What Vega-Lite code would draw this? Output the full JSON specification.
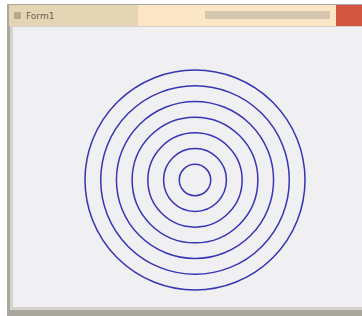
{
  "$schema": "https://vega.github.io/schema/vega-lite/v6.json",
  "width": 362,
  "height": 316,
  "autosize": {"type": "fit", "contains": "padding"},
  "padding": 0,
  "background": "#ffffff",
  "config": {"view": {"stroke": null}},
  "datasets": {
    "frame": [
      {"part": "border", "x1": 7, "x2": 362, "y1": 4, "y2": 316},
      {"part": "borderInner", "x1": 10, "x2": 362, "y1": 26, "y2": 310},
      {"part": "titleLeft", "x1": 9, "x2": 138, "y1": 5, "y2": 26},
      {"part": "titleMid", "x1": 138, "x2": 336, "y1": 5, "y2": 26},
      {"part": "titleBlur", "x1": 205, "x2": 330, "y1": 11, "y2": 19},
      {"part": "close", "x1": 336, "x2": 362, "y1": 5, "y2": 26},
      {"part": "icon", "x1": 14, "x2": 21, "y1": 12, "y2": 19},
      {"part": "client", "x1": 13, "x2": 362, "y1": 27, "y2": 307}
    ],
    "rings": [
      {"ring": 1, "cx": 195, "cy": 180},
      {"ring": 2, "cx": 195, "cy": 180},
      {"ring": 3, "cx": 195, "cy": 180},
      {"ring": 4, "cx": 195, "cy": 180},
      {"ring": 5, "cx": 195, "cy": 180},
      {"ring": 6, "cx": 195, "cy": 180},
      {"ring": 7, "cx": 195, "cy": 180}
    ],
    "title": [{"label": "Form1", "tx": 26, "ty": 16}]
  },
  "layer": [
    {
      "data": {"name": "frame"},
      "mark": {"type": "rect"},
      "encoding": {
        "x": {"field": "x1", "type": "quantitative", "scale": {"domain": [0, 362], "nice": false, "zero": false}, "axis": null},
        "x2": {"field": "x2"},
        "y": {"field": "y1", "type": "quantitative", "scale": {"domain": [0, 316], "nice": false, "zero": false, "reverse": true}, "axis": null},
        "y2": {"field": "y2"},
        "color": {
          "field": "part",
          "type": "nominal",
          "legend": null,
          "scale": {
            "domain": ["border", "borderInner", "titleLeft", "titleMid", "titleBlur", "close", "icon", "client"],
            "range": ["#a9a79d", "#d6d3ca", "#e4d6b4", "#fbe6c6", "#d4c6b0", "#d2553f", "#b8a890", "#f0f0f2"]
          }
        }
      }
    },
    {
      "data": {"name": "title"},
      "mark": {"type": "text", "align": "left", "baseline": "middle", "font": "DejaVu Sans", "fontSize": 9, "color": "#6a6256"},
      "encoding": {
        "x": {"field": "tx", "type": "quantitative"},
        "y": {"field": "ty", "type": "quantitative"},
        "text": {"field": "label"}
      }
    },
    {
      "data": {"name": "rings"},
      "mark": {"type": "point", "shape": "circle", "filled": false, "stroke": "#3535b5", "strokeWidth": 1.5, "opacity": 1},
      "encoding": {
        "x": {"field": "cx", "type": "quantitative"},
        "y": {"field": "cy", "type": "quantitative"},
        "size": {"field": "ring", "type": "quantitative", "legend": null, "scale": {"type": "pow", "exponent": 2, "domain": [0, 7], "range": [0, 48400]}}
      }
    }
  ]
}
